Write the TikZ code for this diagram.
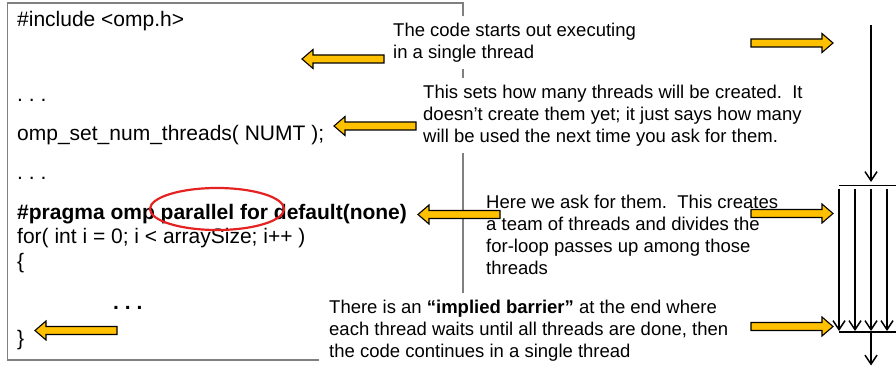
\documentclass[tikz,border=0pt]{standalone}
\usepackage{fontspec}
\setmainfont{Liberation Sans}
\usetikzlibrary{arrows.meta,shapes.geometric}
\definecolor{gold}{HTML}{FFC000}
\definecolor{boxgray}{HTML}{808080}
\definecolor{ringred}{HTML}{E52222}

\begin{document}
\begin{tikzpicture}[x=1pt,y=-1pt,
  code/.style={anchor=base west, inner sep=0pt, font=\fontsize{21}{25}\selectfont},
  note/.style={anchor=north west, align=left, inner xsep=10pt, inner ysep=7pt,
               font=\fontsize{18.5}{22}\selectfont},
  mask/.style={fill=white},
  thread/.style={line width=1.5pt, -{Straight Barb[length=9pt,width=12pt,line width=1.5pt]}},
  bar/.style={line width=1.5pt},
  pointer/.pic={\filldraw[fill=gold, draw=black, line width=1.1pt, line join=miter]
     (0,0) -- (11,-9.5) -- (11,-4) -- (82,-4) -- (82,4) -- (11,4) -- (11,9.5) -- cycle;}
]
\useasboundingbox (0,0) rectangle (896,366);

% frame around the source listing
\draw[boxgray, line width=1.6pt] (7.5,3) rectangle (463,360);

% explanations that sit on white, hiding the frame behind them
\node[note, mask] (n1) at (383,15.7)
  {The code starts out executing\\in a single thread};
\node[note, mask] (n2) at (413,77.7)
  {This sets how many threads will be created.\ \ It\\doesn’t create them yet; it just says how many\\will be used the next time you ask for them.};
\node[note, mask] (n4) at (319,292.7)
  {There is an \textbf{“implied barrier”} at the end where\\each thread waits until all threads are done, then\\the code continues in a single thread};

% source listing
\node[code] (c1) at (17,27)  {\#include <omp.h>};
\node[code] (c2) at (17,102) {.\ .\ .};
\node[code] (c3) at (17,141) {omp\_set\_num\_threads( NUMT );};
\node[code] (c4) at (17,179) {.\ .\ .};
\node[code] (c5) at (17,219) {\bfseries \#pragma omp parallel for default(none)};
\node[code] (c6) at (17,243) {for( int i = 0; i < arraySize; i++ )};
\node[code] (c7) at (17,268) {\{};
\node[code] (c8) at (113,309) {\bfseries .\ .\ .};
\node[code] (c9) at (17,345) {\}};

% highlight ring
\node[draw=ringred, line width=2.2pt, ellipse, minimum width=134pt, minimum height=42pt,
      inner sep=0pt] (ring) at (217,209) {};

% pointers towards the listing
\pic at (302,59)    {pointer};
\pic at (334,126)   {pointer};
\pic at (418,214.5) {pointer};
\pic at (35,330.5)  {pointer};

% pointers towards the thread diagram
\pic[xscale=-1] at (833,43)    {pointer};
\pic[xscale=-1] at (833,213.5) {pointer};
\pic[xscale=-1] at (833,326.5) {pointer};

\node[note] (n3) at (476,187.7)
  {Here we ask for them.\ \ This creates\\a team of threads and divides the\\for-loop passes up among those\\threads};

% fork / join of threads
\coordinate (single) at (871,25);
\coordinate (forkin) at (871,182);
\coordinate (forkL) at (839,185.5);
\coordinate (forkR) at (897,185.5);
\coordinate (joinL) at (839,332);
\coordinate (joinR) at (897,332);
\coordinate (joined) at (871,332);
\coordinate (after) at (871,365.5);

\draw[thread] (single) -- (forkin);
\draw[bar] (forkL) -- (forkR);
\foreach \i/\x in {1/839,2/855,3/871,4/887} {
  \coordinate (t\i a) at (\x,189);
  \coordinate (t\i b) at (\x,331);
  \draw[thread] (t\i a) -- (t\i b);
}
\draw[bar] (joinL) -- (joinR);
\draw[thread] (joined) -- (after);
\end{tikzpicture}
\end{document}
